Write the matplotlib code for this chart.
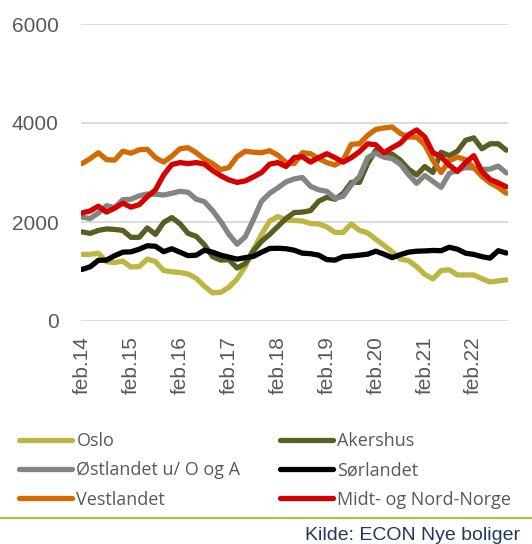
import numpy as np
import matplotlib.pyplot as plt

# bimonthly observations, feb.14 -> okt.22
months = np.arange(0, 105, 2)

oslo = [1346, 1346, 1370, 1200, 1180, 1210, 1090, 1100, 1250, 1200, 1020, 995, 980, 950,
        860, 700, 570, 580, 680, 850, 1100, 1440, 1750, 2020, 2110, 2040, 2030,
        2020, 1970, 1960, 1900, 1790, 1790, 1960, 1830, 1780, 1650, 1530, 1400, 1250,
        1220, 1100, 940, 850, 1020, 1035, 930, 930, 930, 855, 790, 810, 830]
akershus = [1800, 1770, 1830, 1860, 1850, 1830, 1690, 1690, 1880, 1750, 1990, 2090,
            1966, 1770, 1710, 1540, 1300, 1230, 1240, 1070, 1160, 1420, 1610, 1750, 1910, 2070, 2190,
            2200, 2230, 2420, 2500, 2460,
            2580, 2800, 2800, 3180, 3450, 3400, 3370, 3250, 3070, 2950, 3120, 3000, 3410, 3340,
            3430, 3650, 3700, 3480, 3580, 3580, 3450]
ostlandet = [2100, 2070, 2180, 2330, 2290, 2450, 2460, 2530, 2565, 2560, 2545, 2580, 2620, 2600,
             2460, 2410, 2230, 2010, 1750, 1550, 1700, 2050, 2420, 2580,
             2690, 2810, 2870, 2900, 2720, 2650, 2620, 2480, 2520, 2750, 2920, 3300, 3390, 3310,
             3280, 3170, 2960, 2780, 2940, 2820, 2700, 2980, 3050, 3100, 3090, 3060, 3070, 3130, 2990]
sorlandet = [1042, 1095, 1225, 1230, 1320, 1390, 1398, 1450, 1520, 1510, 1400, 1460,
             1390, 1320, 1330, 1430, 1390, 1330, 1290, 1250, 1280, 1305, 1390, 1465, 1470, 1460, 1430,
             1370, 1360, 1330, 1240, 1230, 1300, 1312, 1330, 1350, 1410, 1350, 1280, 1340,
             1390, 1410, 1415, 1425, 1420, 1490, 1450, 1370, 1345, 1300, 1270, 1420, 1373]
vestlandet = [3180, 3280, 3400, 3260, 3250, 3430, 3390, 3460, 3470, 3300, 3210, 3330, 3480, 3500,
              3400, 3270, 3180, 3060, 3100, 3320, 3430, 3410, 3400, 3440,
              3350, 3200, 3180, 3400, 3380, 3280, 3200, 3150, 3250, 3570, 3580, 3750, 3870, 3900,
              3920, 3790, 3716, 3716, 3560, 3245, 3000, 3240, 3310, 3260, 3100, 2920, 2790, 2700, 2580]
midtnord = [2184, 2224, 2320, 2200, 2280, 2380, 2300, 2350, 2510, 2650, 2950, 3160, 3200, 3180,
            3200, 3170, 3040, 2935, 2850, 2800, 2830, 2910, 3000, 3170,
            3200, 3120, 3300, 3320, 3210, 3300, 3380, 3300, 3210, 3300, 3420, 3580, 3560, 3400,
            3500, 3590, 3760, 3860, 3720, 3400, 3320, 3150, 3020, 3200, 3340, 3020, 2860, 2790, 2710]

tick_months = np.arange(0, 97, 12)
tick_labels = ['feb.14', 'feb.15', 'feb.16', 'feb.17', 'feb.18',
               'feb.19', 'feb.20', 'feb.21', 'feb.22']

fig = plt.figure(figsize=(5.32, 5.44), dpi=100)
ax = fig.add_axes([81 / 532, 1 - 321 / 544, 427 / 532, 297 / 544])

style = dict(lw=3.8, solid_capstyle='round', solid_joinstyle='round')
l_oslo, = ax.plot(months, oslo, color='#BDB642', label='Oslo', **style)
l_ak, = ax.plot(months, akershus, color='#5B5E22', label='Akershus', **style)
l_ost, = ax.plot(months, ostlandet, color='#848484', label='Østlandet u/ O og A', **style)
l_vest, = ax.plot(months, vestlandet, color='#D26B04', label='Vestlandet', **style)
l_sor, = ax.plot(months, sorlandet, color='#000000', label='Sørlandet', **style)
l_midt, = ax.plot(months, midtnord, color='#D60000', label='Midt- og Nord-Norge', **style)

ax.set_ylim(0, 6000)
ax.set_xlim(-0.25, 104.4)
ax.set_yticks([0, 2000, 4000, 6000])
ax.set_xticks(tick_months)
ax.set_xticklabels(tick_labels, rotation=90)
ax.tick_params(length=0, labelsize=15, labelcolor='#595959')
ax.tick_params(axis='x', pad=11)
ax.tick_params(axis='y', pad=16)
for lab in ax.get_xticklabels() + ax.get_yticklabels():
    lab.set_family('Liberation Sans')
ax.grid(axis='y', color='#D9D9D9', lw=1.3)
ax.set_axisbelow(True)
for s in ax.spines.values():
    s.set_visible(False)

handles = [l_oslo, l_ost, l_vest, l_ak, l_sor, l_midt]
leg = fig.legend(handles=handles, labels=[h.get_label() for h in handles], ncol=2,
                 loc='upper left', bbox_to_anchor=(12 / 532, 1 - 425 / 544),
                 frameon=False, prop={'family': 'Open Sans', 'size': 13},
                 handlelength=2.95, handletextpad=0.22, labelspacing=0.62,
                 columnspacing=2.2, borderaxespad=0)
for t in leg.get_texts():
    t.set_color('#595959')

fig.add_artist(plt.Line2D([0, 1], [1 - 518 / 544] * 2, color='#BDB642', lw=1.6,
                          transform=fig.transFigure))
fig.text(520 / 532, 1 - 535 / 544, 'Kilde: ECON Nye boliger', ha='right', va='center',
         family='Liberation Sans', fontsize=14, color='#1F3A60')

fig.savefig('out.png', dpi=100)
